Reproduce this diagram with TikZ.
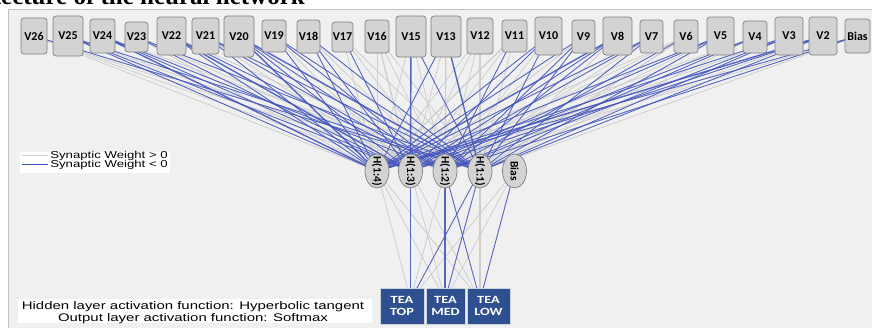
\documentclass[tikz,border=0pt]{standalone}
\usepackage{fontspec}
\setmainfont{Carlito}
\newfontfamily\arialf{Liberation Sans}
\newfontfamily\timesf{Liberation Serif}
\usetikzlibrary{shapes.geometric}
\pgfdeclarelayer{bottom}
\pgfdeclarelayer{background}
\pgfsetlayers{bottom,background,main}
\definecolor{panel}{HTML}{F0F0F0}
\definecolor{nodefill}{HTML}{D3D3D3}
\definecolor{nodeedge}{HTML}{808080}
\definecolor{negw}{HTML}{4456BE}
\definecolor{posw}{HTML}{CDCDCD}
\definecolor{outfill}{HTML}{2F5090}
\newcommand\inputlines{%
\foreach \i/\sa/\sb/\sc/\sd in {
 i26/wpos/wpos/wpos/wneg, i25/wneg/wneg/wpos/wneg, i24/wnegb/wneg/wneg/wpos,
 i23/wpos/wneg/wpos/wneg, i22/wneg/wnegb/wneg/wpos, i21/wneg/wpos/wneg/wneg,
 i20/wnegb/wneg/wneg/wnegb, i19/wneg/wpos/wneg/wneg, i18/wneg/wneg/wpos/wneg,
 i17/wpos/wneg/wpos/wpos, i16/wpos/wposb/wpos/wpos, i15/wpos/wnegb/wpos/wneg,
 i13/wneg/wpos/wposb/wnegb, i12/wpos/wpos/wpos/wposb, i11/wposb/wpos/wneg/wpos,
 i10/wneg/wneg/wpos/wneg, i9/wneg/wpos/wneg/wneg, i8/wnegb/wneg/wneg/wpos,
 i7/wneg/wneg/wpos/wneg, i6/wpos/wpos/wneg/wposb, i5/wneg/wneg/wpos/wneg,
 i4/wpos/wneg/wneg/wpos, i3/wneg/wpos/wneg/wneg, i2/wnegb/wneg/wpos/wneg,
 ib/wneg/wpos/wneg/wpos}{
  \draw[\sa] (\i.center) -- (h4.center);
  \draw[\sb] (\i.center) -- (h3.center);
  \draw[\sc] (\i.center) -- (h2.center);
  \draw[\sd] (\i.center) -- (h1.center);
 }%
 \draw[wpos] (h4.center) -- (t1); \draw[wpos] (h4.center) -- (t2); \draw[wpos] (h4.center) -- (t3);
 \draw[wnegb] (h3.center) -- (t1); \draw[wpos] (h3.center) -- (t2); \draw[wpos] (h3.center) -- (t3);
 \draw[wpos] (h2.center) -- (t1); \draw[wnegb] (h2.center) -- (t2); \draw[wneg] (h2.center) -- (t3);
 \draw[wneg] (h1.center) -- (t1); \draw[wneg] (h1.center) -- (t2); \draw[wposb] (h1.center) -- (t3);
 \draw[wpos] (hb.center) -- (t1); \draw[wpos] (hb.center) -- (t2); \draw[wneg] (hb.center) -- (t3);
}
\begin{document}
\begin{tikzpicture}[x=1pt,y=-1pt,
  inbox/.style={draw=nodeedge, fill=nodefill, rounded corners=3pt, line width=0.7pt,
    inner sep=0pt, font=\bfseries\fontsize{12}{12}\selectfont},
  hid/.style={ellipse, draw=nodeedge, fill=nodefill, line width=0.7pt, inner sep=0pt,
    minimum width=24pt, minimum height=34pt},
  hidtxt/.style={rotate=-90, inner sep=0pt, font=\bfseries\fontsize{11.5}{11.5}\selectfont},
  outbox/.style={fill=outfill, draw=white!75!outfill, line width=0.6pt, inner sep=0pt,
    minimum height=36pt, text=white, align=center,
    font=\bfseries\fontsize{11}{12.5}\selectfont},
  legtxt/.style={inner sep=0pt, font=\arialf\fontsize{10}{10}\selectfont, xscale=1.32},
  acttxt/.style={inner sep=0pt, font=\arialf\fontsize{11}{11}\selectfont, xscale=1.36}
]
\useasboundingbox (0,0) rectangle (872,327);
\begin{pgfonlayer}{bottom}
  \fill[panel] (8,9) rectangle (874,329);
  \draw[black!25, line width=0.7pt] (8,329) -- (8,9) -- (874,9);
\end{pgfonlayer}
% title, cut off by the top edge as in the reference
\node[anchor=base east, inner sep=0pt, font=\timesf\bfseries\fontsize{25}{25}\selectfont]
  (title) at (305,4.5) {Architecture of the neural network};
% input layer
\foreach \n/\t/\x/\y/\w/\h in {
 i26/V26/34/36/26/36, i25/V25/68/36/30/40, i24/V24/102.5/36/25/34,
 i23/V23/136.5/37/23/30, i22/V22/171.5/36/29/38, i21/V21/205.5/36/27/36,
 i20/V20/239/36.5/30/41, i19/V19/274/36/24/32, i18/V18/308.5/36.5/23/33,
 i17/V17/342.5/37/21/30, i16/V16/377/36.5/24/33, i15/V15/411/36.5/30/41,
 i13/V13/446/36.5/30/41, i12/V12/480/36/26/36, i11/V11/514.5/36/25/32,
 i10/V10/548.5/36/27/38, i9/V9/583.5/36.5/23/33, i8/V8/617.5/36/29/38,
 i7/V7/651.5/36.5/23/33, i6/V6/686/36.5/24/33, i5/V5/720.5/36/27/38,
 i4/V4/755/37/24/32, i3/V3/789/36/28/38, i2/V2/823/36/28/38,
 ib/Bias/857.5/36/25/34}{
  \node[inbox, minimum width=\w pt, minimum height=\h pt] (\n) at (\x,\y) {\t};
}
% hidden layer
\foreach \n/\t/\x in {h4/H(1:4)/377, h3/H(1:3)/410.5, h2/H(1:2)/445, h1/H(1:1)/480, hb/Bias/514.5}{
  \node[hid] (\n) at (\x,171) {};
  \node[hidtxt] at (\n.center) {\t};
}
% output layer
\node[outbox, minimum width=44pt] (otop) at (402,306) {\scalebox{1.3}[1]{TEA}\\\scalebox{1.3}[1]{TOP}};
\node[outbox, minimum width=39pt] (omed) at (445.5,306) {\scalebox{1.3}[1]{TEA}\\\scalebox{1.3}[1]{MED}};
\node[outbox, minimum width=43pt] (olow) at (488.5,306) {\scalebox{1.3}[1]{TEA}\\\scalebox{1.3}[1]{LOW}};
\coordinate (t1) at (410.5,300);
\coordinate (t2) at (445,300);
\coordinate (t3) at (480,300);
% connectors: positive weights first, negative on top
\begin{pgfonlayer}{background}
\begin{scope}[wpos/.style={draw=posw, line width=0.75pt}, wposb/.style={draw=posw, line width=1.2pt},
  wneg/.style={draw=none}, wnegb/.style={draw=none}]
  \inputlines
\end{scope}
\begin{scope}[wpos/.style={draw=none}, wposb/.style={draw=none},
  wneg/.style={draw=negw, line width=0.9pt, opacity=0.9}, wnegb/.style={draw=negw, line width=1.4pt, opacity=0.9}]
  \inputlines
\end{scope}
\end{pgfonlayer}
% weight legend
\node[fill=white, inner sep=0pt, minimum width=150pt, minimum height=21pt, anchor=north west] (leg) at (20,152) {};
\coordinate (lp1) at (22,155.7); \coordinate (lp2) at (48,155.7);
\coordinate (ln1) at (22,164.3); \coordinate (ln2) at (48,164.3);
\draw[posw, line width=0.8pt] (lp1) -- (lp2);
\draw[negw, line width=0.8pt] (ln1) -- (ln2);
\node[legtxt, anchor=west] (legp) at (50,156) {Synaptic Weight > 0};
\node[legtxt, anchor=west] (legn) at (50,164.7) {Synaptic Weight < 0};
% activation functions
\node[fill=white, inner sep=0pt, minimum width=354pt, minimum height=24pt, anchor=north west] (act) at (18,299) {};
\node[acttxt, anchor=base] (act1) at (193,309.5) {Hidden layer activation function: Hyperbolic tangent};
\node[acttxt, anchor=base] (act2) at (193,321) {Output layer activation function: Softmax};
\end{tikzpicture}
\end{document}
